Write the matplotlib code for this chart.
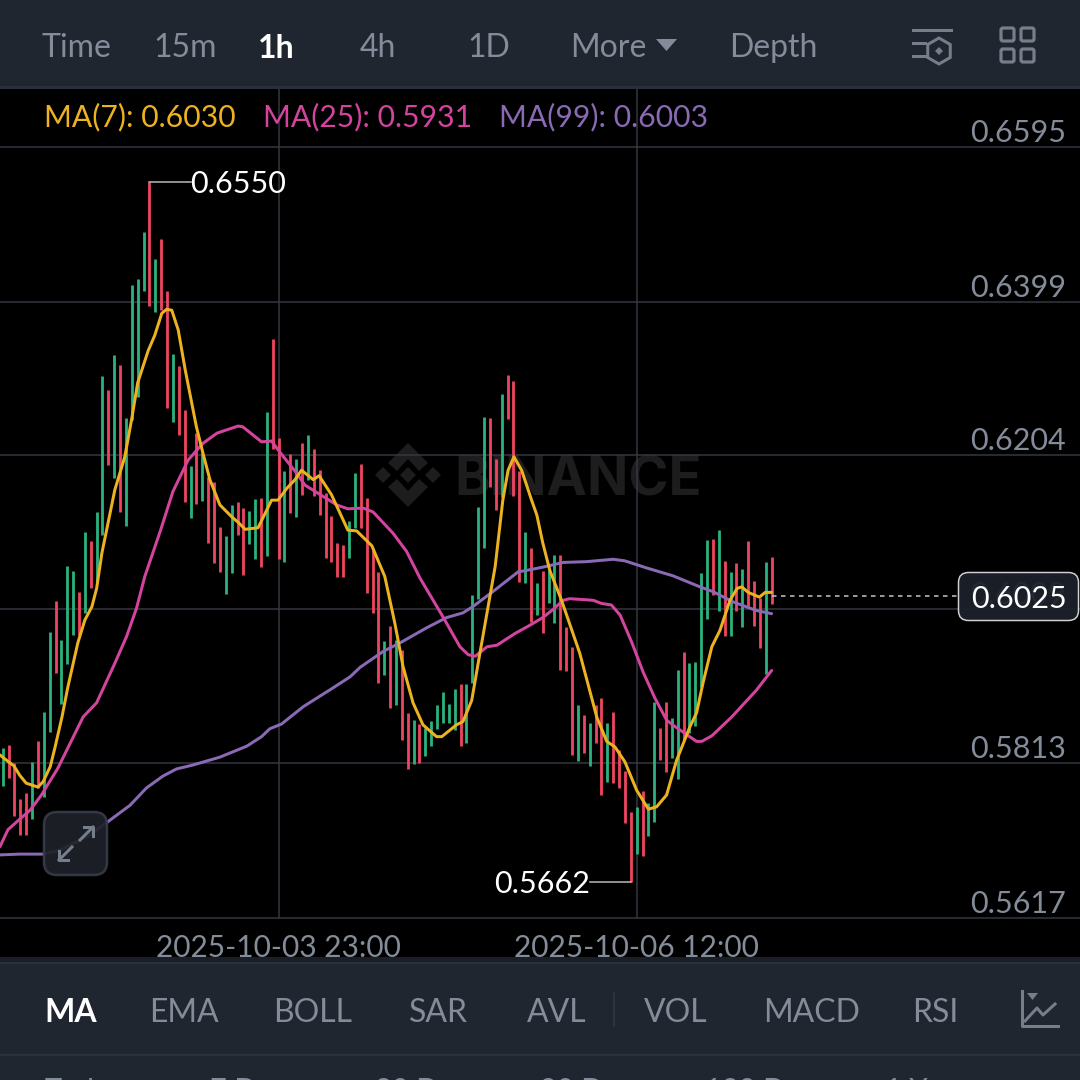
import matplotlib
matplotlib.use("Agg")
import matplotlib.pyplot as plt
from matplotlib.patches import FancyBboxPatch, Polygon, Rectangle, RegularPolygon

plt.rcParams["font.family"] = ["Lato", "DejaVu Sans"]

# ------------------ DATA ------------------ #
highs = [.5833,.5836,.5814,.5768,.5775,.5815,.5841,.5878,.5980,.6019,
         .5970,.6063,.6057,.6030,.6107,.6095,.6132,.6305,.6287,.6331,
         .6318,.6251,.6420,.6428,.6487,.6550,.6453,.6478,.6412,.6332,
         .6317,.6261,.6190,.6232,.6207,.6176,.6170,.6113,.6101,.6141,
         .6145,.6137,.6133,.6148,.6150,.6259,.6351,.6226,.6184,.6205,
         .6199,.6219,.6230,.6212,.6185,.6156,.6127,.6093,.6090,.6120,
         .6181,.6193,.6150,.6084,.6056,.5968,.5987,.5970,.5957,.5877,
         .5868,.5863,.5858,.5867,.5887,.5904,.5888,.5907,.5914,.5914,
         .6027,.6138,.6252,.6251,.6199,.6282,.6306,.6298,.6184,.6107,
         .6086,.6042,.6057,.6058,.6077,.6077,.5986,.5961,.5887,.5874,
         .5864,.5887,.5896,.5864,.5878,.5830,.5803,.5751,.5758,.5778,
         .5763,.5891,.5858,.5891,.5871,.5931,.5954,.5940,.5942,.6055,
         .6096,.6098,.6109,.6070,.6056,.6067,.6060,.6095,.6044,.6023,
         .6068,.6075]
lows = [.5784,.5794,.5746,.5722,.5722,.5743,.5782,.5770,.5853,.5928,
        .5888,.5939,.5976,.5976,.6004,.6035,.6042,.6103,.6192,.6175,
        .6132,.6114,.6249,.6278,.6412,.6393,.6386,.6388,.6264,.6246,
        .6230,.6145,.6124,.6142,.6146,.6093,.6067,.6056,.6028,.6055,
        .6103,.6052,.6091,.6072,.6062,.6076,.6212,.6072,.6068,.6131,
        .6126,.6154,.6173,.6152,.6128,.6074,.6068,.6049,.6049,.6074,
        .6112,.6112,.6029,.6004,.5915,.5925,.5883,.5887,.5843,.5806,
        .5812,.5814,.5822,.5835,.5857,.5864,.5864,.5855,.5835,.5839,
        .5915,.6022,.6086,.6164,.6134,.6151,.6250,.6152,.6043,.6042,
        .5992,.6001,.5978,.6016,.5991,.5931,.5930,.5824,.5816,.5826,
        .5810,.5839,.5773,.5789,.5788,.5782,.5737,.5662,.5698,.5696,
        .5721,.5739,.5817,.5802,.5820,.5793,.5843,.5852,.5860,.5910,
        .5996,.6027,.6006,.5975,.5975,.6006,.5986,.6011,.5987,.5959,
        .5926,.6015]
directions = ("GRRRRGRGGR" "GGGRGRGGRG" "RGGGGRGRRG" "RRGRGRRRGG"
              "RRGGRGRRGR" "GRGRRRRRRG" "GRRRRGRGRR" "GRGGGGGGRG"
              "GGGRRGRRRG" "RGRGGRRRGR" "GRRGRRRRGR" "GGRRGGRGGG"
              "GRGRGRGRRR" "GR")

ma7_hours = [-.5,1,1.9,2.9,4,5.2,6,6.9,8.1,8.9,10.1,11.1,12.8,14,15.2,16,16.9,17.7,
             19.1,20.8,22,23,24.8,25.9,27.1,27.9,28.8,29.9,31.1,33,34.1,35.3,37,39,
             40.1,41.3,43.5,44.3,45.8,46.9,48.4,49.8,50.9,52.9,53.9,56,58.8,60.3,
             62.9,65.1,66.8,68.2,69.9,71.6,73.9,74.8,77.3,78.4,79.9,81.3,83.9,85.2,
             86.1,87.1,88.4,90.1,91,92,93.2,95.2,98.3,101.2,102.9,104.3,106,108,110,
             111.4,113.1,114.8,117.1,118.2,119.3,120.8,122.2,123.9,125.1,125.9,127,
             128.9,129.9,131]
ma7 = [.5824,.5815,.5810,.5798,.5788,.5785,.5783,.5790,.5809,.5833,.5872,.5910,.5966,
       .5995,.6012,.6035,.6080,.6109,.6160,.6202,.6251,.6296,.6337,.6356,.6384,.6389,
       .6388,.6363,.6312,.6240,.6207,.6173,.6141,.6126,.6119,.6110,.6112,.6124,.6147,
       .6147,.6162,.6173,.6185,.6173,.6178,.6154,.6109,.6108,.6089,.6050,.5991,.5936,
       .5890,.5862,.5847,.5847,.5862,.5866,.5893,.5953,.6063,.6147,.6185,.6202,.6185,
       .6147,.6128,.6093,.6058,.6020,.5953,.5872,.5841,.5834,.5815,.5779,.5755,.5758,
       .5773,.5817,.5860,.5877,.5915,.5961,.5982,.6020,.6035,.6037,.6030,.6024,.6030,
       .6030]

ma25_hours = [-.5,.9,2.4,4.7,6.6,9.4,13.7,16,19.1,21.1,22.8,24.2,26.9,29,31.6,34.1,36.5,
              40.1,40.9,44.1,45.8,47.2,50.1,51.5,54.1,56.9,58.8,61.4,63.1,66.5,68.8,
              71.1,75,77.9,79.3,80.5,82.5,84.2,87.3,89.5,92,93.7,95.5,96.6,100.6,102,
              103.7,105.2,107.2,109.1,111.1,113.1,114.5,118.2,119.1,120.8,124.2,128.4,
              131]
ma25 = [.5707,.5729,.5739,.5754,.5773,.5807,.5872,.5890,.5940,.5974,.6010,.6050,.6109,
        .6158,.6198,.6219,.6232,.6241,.6240,.6221,.6222,.6208,.6181,.6166,.6154,.6141,
        .6136,.6137,.6132,.6105,.6082,.6048,.5999,.5961,.5951,.5949,.5961,.5963,.5978,
        .5987,.5998,.6008,.6020,.6022,.6020,.6016,.6014,.6001,.5966,.5929,.5896,.5868,
        .5860,.5841,.5841,.5848,.5872,.5906,.5931]

ma99_hours = [-.5,2.9,6.9,9.8,14.3,17.9,21.7,24.5,27.3,29.6,32.4,37,41.6,44.1,45.5,47.5,
              51.2,56.3,59.2,60.9,64.8,67.7,72.2,75.6,78.4,80.1,83.5,87.8,89.3,92,95.5,
              99.5,104,106,109.7,114.2,118.8,121,124.4,128.4,131]
ma99 = [.5697,.5698,.5698,.5703,.5720,.5739,.5760,.5782,.5797,.5806,.5811,.5821,.5835,
        .5847,.5857,.5863,.5885,.5909,.5923,.5935,.5955,.5966,.5985,.5998,.6004,.6012,
        .6031,.6056,.6058,.6062,.6068,.6069,.6072,.6070,.6061,.6051,.6037,.6031,.6018,
        .6007,.6003]

price_ticks = [0.6595, 0.6399, 0.6204, 0.6009, 0.5813, 0.5617]
date_hours = [47, 108]
date_labels = ["2025-10-03 23:00", "2025-10-06 12:00"]
last_price = 0.6025
high_mark = (25, 0.6550)
low_mark = (107, 0.5662)
ma_labels = ["MA(7): 0.6030", "MA(25): 0.5931", "MA(99): 0.6003"]

top_tabs = ["Time", "15m", "1h", "4h", "1D", "More", "Depth"]
bottom_tabs = ["MA", "EMA", "BOLL", "SAR", "AVL", "VOL", "MACD", "RSI"]
range_tabs = ["Today", "7 Days", "30 Days", "90 Days", "180 Days", "1 Y"]

# ------------------ STYLE ------------------ #
GREEN, RED = "#2BB27E", "#EF4560"
GOLD, PINK, PURPLE = "#EDB21F", "#D4449F", "#8A69B5"
PANEL, GREY, GRID = "#1F2630", "#848C9A", "#353842"
PX = 72 / 100  # one pixel, in points
SPACING = 5.87
X0 = 2.7       # pixel of the first candle
Y_REF = 147    # pixel of the top price tick
SCALE = 7883   # pixels per unit of price
CH_TOP, CH_BOT = 88, 958

fig = plt.figure(figsize=(10.8, 10.8), dpi=100, facecolor="black")

# pixel layer under the chart, for the watermark
bg = fig.add_axes([0, 0, 1, 1], zorder=0)
bg.set_xlim(0, 1080); bg.set_ylim(1080, 0); bg.axis("off")
WM = "#1D1D1D"
for cx in (383, 408, 433):
    bg.add_patch(Polygon([(cx - 8, 475), (cx, 467), (cx + 8, 475), (cx, 483)], color=WM, lw=0))
for s in (1, -1):
    bg.add_patch(Polygon([(408, 475 - s * 32), (428, 475 - s * 12), (419, 475 - s * 4),
                          (408, 475 - s * 16), (397, 475 - s * 4), (388, 475 - s * 12)],
                         color=WM, lw=0))
bg.text(454, 475, "BINANCE", color=WM, fontsize=39, fontweight="bold", ha="left",
        va="center_baseline", family="Inter")

# candle chart
ax = fig.add_axes([0, 1 - CH_BOT / 1080, 1, (CH_BOT - CH_TOP) / 1080], zorder=1)
ax.patch.set_alpha(0)
ax.set_xlim(-X0 / SPACING, (1080 - X0) / SPACING)
ax.set_ylim(price_ticks[0] - (CH_BOT - Y_REF) / SCALE, price_ticks[0] + (Y_REF - CH_TOP) / SCALE)
for s in ax.spines.values():
    s.set_visible(False)
ax.set_xticks([]); ax.set_yticks([])

for p in price_ticks:
    ax.axhline(p, color=GRID, lw=1.5 * PX, zorder=1)
    ax.annotate(f"{p:.4f}", xy=(1, p), xycoords=ax.get_yaxis_transform(), xytext=(-14 * PX, 14 * PX),
                textcoords="offset points", color=GREY, fontsize=22, ha="right", va="center")
ax.vlines(date_hours, price_ticks[-1], ax.get_ylim()[1], color=GRID, lw=1.5 * PX, zorder=1)
for h, lab in zip(date_hours, date_labels):
    ax.text(h, 10 / (CH_BOT - CH_TOP), lab, transform=ax.get_xaxis_transform(), color=GREY,
            fontsize=21.5, ha="center", va="center")

hours = list(range(len(highs)))
colors = [GREEN if d == "G" else RED for d in directions]
ax.vlines(hours, lows, highs, colors=colors, lw=2.8 * PX, zorder=2, capstyle="butt")

for xs, ys, c in ((ma99_hours, ma99, PURPLE), (ma25_hours, ma25, PINK), (ma7_hours, ma7, GOLD)):
    ax.plot(xs, ys, color=c, lw=3 * PX, zorder=3, solid_joinstyle="round", solid_capstyle="round")

# last price dashes
ax.plot([hours[-1] + .1, (958 - X0) / SPACING], [last_price, last_price], color="#C8C8C8",
        lw=1.5 * PX, dashes=(3, 3), zorder=2)

# high / low markers
ax.plot([high_mark[0], high_mark[0] + 7], [high_mark[1]] * 2, color="#BDBDBD", lw=1.5 * PX, zorder=3)
ax.annotate(f"{high_mark[1]:.4f}", xy=(high_mark[0] + 7, high_mark[1]), xytext=(0, -2 * PX),
            textcoords="offset points", color="white", fontsize=22, va="center", ha="left")
ax.plot([low_mark[0], low_mark[0] - 7], [low_mark[1]] * 2, color="#BDBDBD", lw=1.5 * PX, zorder=3)
ax.annotate(f"{low_mark[1]:.4f}", xy=(low_mark[0] - 7, low_mark[1]), xytext=(0, -2 * PX),
            textcoords="offset points", color="white", fontsize=22, va="center", ha="right")

# pixel layer on top: panels, tabs, icons
ui = fig.add_axes([0, 0, 1, 1], zorder=2)
ui.patch.set_alpha(0)
ui.set_xlim(0, 1080); ui.set_ylim(1080, 0); ui.axis("off")

ui.add_patch(Rectangle((0, 0), 1080, CH_TOP, color=PANEL, lw=0))
ui.add_patch(Rectangle((0, 86), 1080, 3, color="#2A303A", lw=0))
ui.add_patch(Rectangle((0, 957), 1080, 6, color="#1A1F27", lw=0))
ui.add_patch(Rectangle((0, 963), 1080, 117, color=PANEL, lw=0))
ui.plot([0, 1080], [963, 963], color="#2E3542", lw=1.5 * PX)
ui.plot([0, 1080], [1055, 1055], color="#2E3542", lw=1.5 * PX)

for x, lab, c in zip((44, 263, 499), ma_labels, (GOLD, PINK, PURPLE)):
    ui.text(x, 117, lab, color=c, fontsize=21.7, va="center", ha="left")

for x, lab in zip((42, 153, 258, 360, 467, 570, 729), top_tabs):
    on = lab == "1h"
    ui.text(x, 48, lab, color="white" if on else GREY, fontsize=23, va="center", ha="left",
            fontweight="bold" if on else "normal")
ui.add_patch(Polygon([(656, 39), (677, 39), (666.5, 51)], color=GREY, lw=0))

for x, lab in zip((44, 149, 273, 409, 527, 644, 763, 912), bottom_tabs):
    on = lab == "MA"
    ui.text(x, 1013, lab, color="white" if on else GREY, fontsize=23, va="center", ha="left",
            fontweight="bold" if on else "normal")
ui.plot([614, 614], [993, 1026], color="#323845", lw=1.5 * PX)

for x, lab in zip((45, 210, 375, 540, 705, 885), range_tabs):
    ui.text(x, 1078, lab, color=GREY, fontsize=21, va="top", ha="left", clip_on=True)

ICON = "#767D8B"
ui.plot([913, 951], [30, 30], color=ICON, lw=3 * PX)
ui.plot([913, 925], [43, 43], color=ICON, lw=3 * PX)
ui.plot([913, 925], [56, 56], color=ICON, lw=3 * PX)
ui.add_patch(RegularPolygon((939, 51), 6, radius=13, fill=False, ec=ICON, lw=3 * PX))
ui.add_patch(Polygon([(939, 47), (943, 51), (939, 55), (935, 51)], color=ICON, lw=0))
for gx in (1001, 1021):
    for gy in (28, 49):
        ui.add_patch(FancyBboxPatch((gx, gy), 13, 13, boxstyle="round,pad=0,rounding_size=2",
                                    fill=False, ec=ICON, lw=3.2 * PX))
ui.plot([1022, 1022, 1058], [991, 1026, 1026], color=ICON, lw=3 * PX)
ui.add_patch(Polygon([(1027, 993), (1038, 993), (1032.5, 1000)], color=ICON, lw=0))
ui.plot([1025, 1037, 1043, 1055], [1021, 1008, 1015, 1004], color=ICON, lw=3 * PX)

# price pill
ui.add_patch(FancyBboxPatch((958.5, 572.5), 120, 48, boxstyle="round,pad=0,rounding_size=10",
                            fc="#1C212B", ec="#E0E0E0", lw=1.5 * PX, alpha=.93))
ui.text(1019, 599, f"{last_price:.4f}", color="white", fontsize=22, ha="center", va="center")

# expand button
ui.add_patch(FancyBboxPatch((44, 812), 63, 63, boxstyle="round,pad=0,rounding_size=13",
                            fc="#1E2229", ec="#363C47", lw=2.5 * PX, alpha=.93))
ui.plot([59, 72], [860, 847], color=ICON, lw=3 * PX)
ui.plot([59, 59, 68], [851, 860, 860], color=ICON, lw=3 * PX)
ui.plot([80, 93], [840, 827], color=ICON, lw=3 * PX)
ui.plot([84, 93, 93], [827, 827, 836], color=ICON, lw=3 * PX)

fig.savefig("out.png", dpi=100, facecolor="black")
